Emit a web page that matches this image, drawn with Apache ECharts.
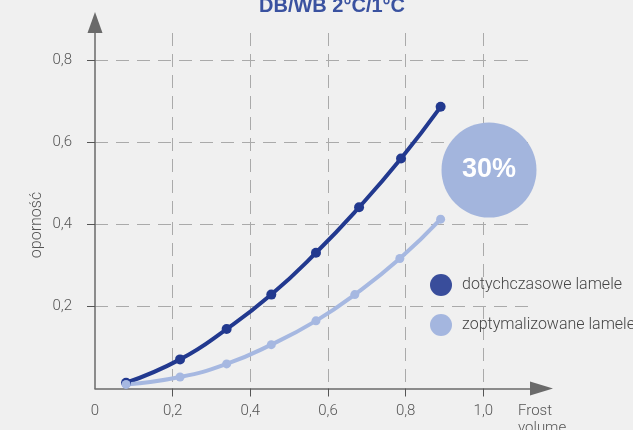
<!DOCTYPE html>
<html>
<head>
<meta charset="utf-8">
<script src="https://cdn.jsdelivr.net/npm/echarts@6/dist/echarts.min.js"></script>
<style>
html,body{margin:0;padding:0;background:#f0f0f0;}
#c{width:633px;height:430px;}
</style>
</head>
<body>
<div id="c"></div>
<script>
const titleText = 'DB/WB 2°C/1°C';
const yAxisName = 'oporność';
const xAxisName = 'Frost\nvolume';
const seriesNames = ['dotychczasowe lamele', 'zoptymalizowane lamele'];
const badgeText = '30%';

const xTicks = [0.2, 0.4, 0.6, 0.8, 1.0];
const xLabels = [0, 0.2, 0.4, 0.6, 0.8, 1.0];
const yTicks = [0.2, 0.4, 0.6, 0.8];

const darkX = [0.080, 0.219, 0.339, 0.454, 0.569, 0.680, 0.788, 0.890];
const darkY = [0.014, 0.071, 0.145, 0.229, 0.331, 0.442, 0.561, 0.687];
const lightX = [0.080, 0.219, 0.339, 0.454, 0.569, 0.669, 0.785, 0.890];
const lightY = [0.010, 0.028, 0.060, 0.107, 0.165, 0.229, 0.317, 0.413];

const xMax = 1.133;
const yMax = 0.867;

const fmt = v => v === 0 ? '0' : v.toFixed(1).replace('.', ',');
const pair = (xs, ys) => xs.map((x, i) => [x, ys[i]]);

const chart = echarts.init(document.getElementById('c'));
chart.setOption({
  backgroundColor: '#f0f0f0',
  animation: false,
  grid: { left: 95, right: 98, top: 33, bottom: 41.5, containLabel: false },
  xAxis: {
    type: 'value', min: 0, max: xMax,
    axisLine: { show: true, lineStyle: { color: '#6a6a6a', width: 1.5 },
      symbol: ['none', 'triangle'], symbolSize: [14, 23], symbolOffset: [0, 6.5] },
    axisTick: { show: true, length: 8, customValues: xTicks, lineStyle: { color: '#555', width: 1 } },
    axisLabel: { customValues: xLabels, formatter: fmt, margin: 15, color: '#555',
      fontFamily: 'Roboto', fontSize: 15, fontWeight: 300 },
    splitLine: { show: true, lineStyle: { color: '#aaa', type: [13, 8], width: 1 } }
  },
  yAxis: {
    type: 'value', min: 0, max: yMax,
    axisLine: { show: true, lineStyle: { color: '#6a6a6a', width: 1.5 },
      symbol: ['none', 'triangle'], symbolSize: [15, 21], symbolOffset: [0, 10.5] },
    axisTick: { show: true, length: 8, customValues: yTicks, lineStyle: { color: '#555', width: 1 } },
    axisLabel: { customValues: yTicks, formatter: fmt, margin: 23, color: '#555',
      fontFamily: 'Roboto', fontSize: 15, fontWeight: 300 },
    splitLine: { show: true, lineStyle: { color: '#aaa', type: [13, 8], width: 1 } }
  },
  legend: {
    orient: 'vertical', left: 430, top: 274, padding: 0, itemWidth: 22, itemHeight: 22, itemGap: 18,
    icon: 'circle',
    textStyle: { color: '#444', fontFamily: 'Roboto', fontSize: 16, fontWeight: 300, padding: [0, 0, 0, 5] },
    data: [
      { name: seriesNames[0], itemStyle: { color: '#394d9b' } },
      { name: seriesNames[1], itemStyle: { color: '#a4b6df' } }
    ]
  },
  series: [
    {
      name: seriesNames[0], type: 'line', smooth: true, data: pair(darkX, darkY),
      symbol: 'circle', symbolSize: 10,
      lineStyle: { color: '#22398f', width: 4 },
      itemStyle: { color: '#22398f' }
    },
    {
      name: seriesNames[1], type: 'line', smooth: true, data: pair(lightX, lightY),
      symbol: 'circle', symbolSize: 9,
      lineStyle: { color: '#a6b8e1', width: 4 },
      itemStyle: { color: '#a6b8e1' }
    }
  ],
  graphic: [
    { type: 'text', x: 332, y: 6, style: { text: titleText, fill: '#3a52a0',
      font: 'bold 20px "Liberation Sans", Arial, sans-serif', textAlign: 'center', textVerticalAlign: 'middle' } },
    { type: 'text', x: 37, y: 225, rotation: Math.PI / 2, style: { text: yAxisName, fill: '#555',
      font: '300 16px Roboto', textAlign: 'center', textVerticalAlign: 'middle' } },
    { type: 'text', x: 518, y: 403, style: { text: xAxisName, fill: '#555',
      font: '300 15px Roboto', lineHeight: 17, textAlign: 'left' } },
    { type: 'circle', shape: { cx: 489, cy: 170, r: 47.5 }, style: { fill: '#a3b5dd' }, z: 10 },
    { type: 'text', x: 489, y: 170, z: 11, style: { text: badgeText, fill: '#fff',
      font: 'bold 27px "Liberation Sans", Arial, sans-serif', textAlign: 'center', textVerticalAlign: 'middle' } }
  ]
});
</script>
</body>
</html>
